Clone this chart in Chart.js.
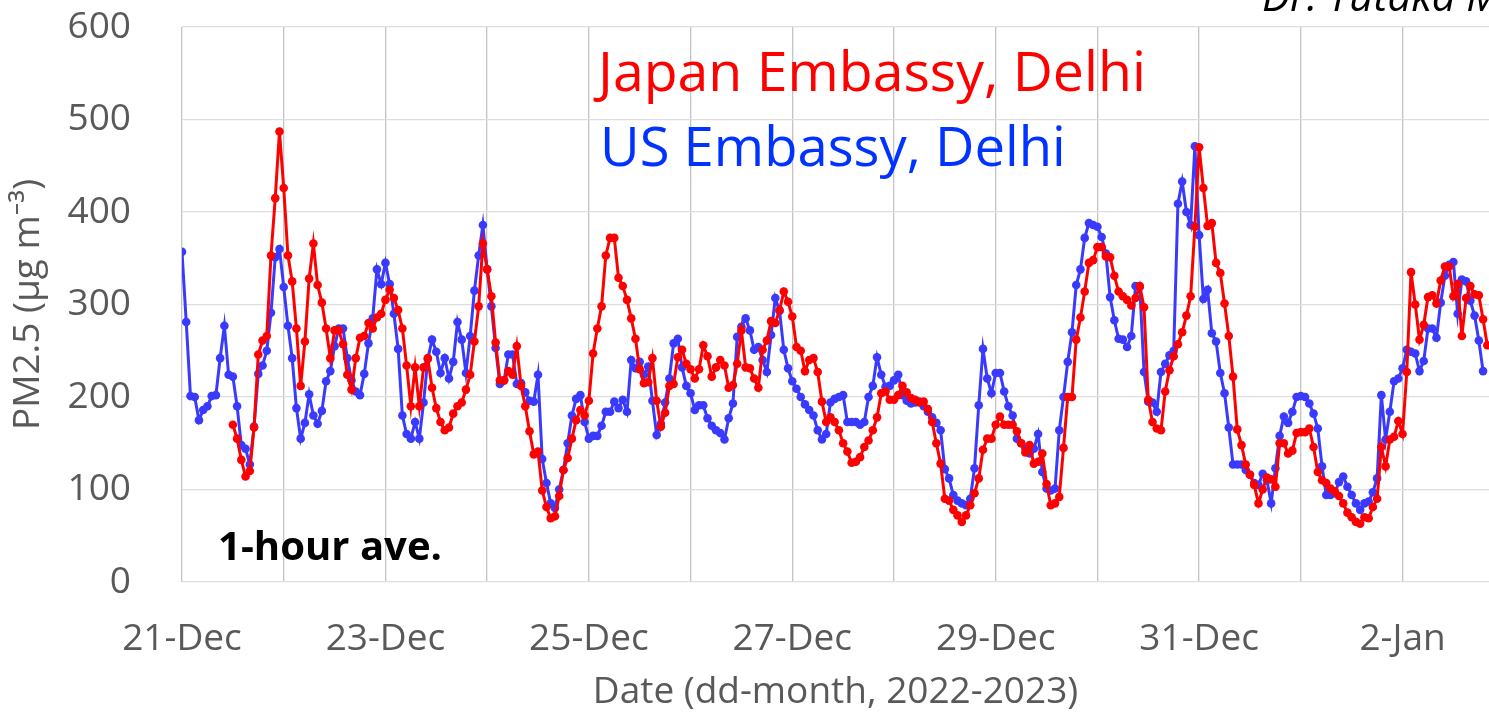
<!DOCTYPE html>
<html>
<head>
<meta charset="utf-8">
<script src="https://cdn.jsdelivr.net/npm/chart.js@4.4.0/dist/chart.umd.min.js"></script>
<style>
  html, body { margin: 0; padding: 0; background: #fff; overflow: hidden; }
  canvas { display: block; }
</style>
</head>
<body>
<canvas id="pm-chart" width="1489" height="716"></canvas>
<script>
// hourly PM2.5 (ug/m3), hour 0 = 21-Dec 00:00
const dayLabels = ['21-Dec', '', '23-Dec', '', '25-Dec', '', '27-Dec', '', '29-Dec', '', '31-Dec', '', '2-Jan'];
const yTicks = [0, 100, 200, 300, 400, 500, 600];
const seriesNames = ['Japan Embassy, Delhi', 'US Embassy, Delhi'];

const usStartHour = 0;
const usPm25 = [
  357, 281, 201, 200, 175, 186, 190, 201, 202, 242, 277, 224, 222, 190, 148, 144, 127, 168, 225, 234, 250, 291, 351, 360,
  319, 277, 242, 188, 155, 172, 203, 180, 171, 185, 217, 228, 255, 274, 274, 242, 218, 206, 202, 225, 258, 285, 338, 322,
  345, 322, 290, 252, 180, 160, 155, 173, 155, 194, 241, 262, 249, 226, 242, 220, 238, 281, 262, 226, 266, 315, 353, 386,
  338, 298, 253, 214, 218, 246, 246, 214, 215, 205, 196, 195, 224, 133, 107, 85, 80, 100, 121, 150, 180, 198, 202, 173,
  155, 158, 158, 169, 184, 184, 195, 188, 197, 184, 240, 231, 238, 224, 233, 196, 159, 171, 194, 220, 258, 263, 232, 212,
  204, 186, 191, 191, 177, 169, 164, 161, 154, 177, 193, 265, 276, 285, 272, 251, 254, 240, 227, 267, 307, 293, 251, 231,
  217, 209, 200, 192, 186, 180, 164, 154, 160, 194, 198, 200, 202, 173, 173, 173, 170, 173, 200, 212, 243, 224, 211, 212,
  218, 224, 202, 196, 193, 194, 195, 190, 184, 178, 172, 164, 122, 112, 94, 88, 85, 83, 90, 123, 191, 252, 220, 204,
  226, 226, 206, 190, 180, 155, 150, 144, 139, 144, 160, 119, 101, 99, 101, 164, 200, 238, 270, 321, 338, 372, 388, 386,
  384, 373, 355, 308, 283, 263, 262, 254, 266, 320, 319, 227, 195, 194, 184, 227, 236, 245, 250, 409, 433, 400, 386, 471,
  375, 306, 316, 269, 260, 226, 204, 167, 127, 127, 127, 121, 116, 107, 105, 117, 110, 85, 123, 158, 179, 172, 184, 200,
  201, 200, 193, 182, 166, 125, 94, 94, 96, 108, 114, 103, 94, 85, 78, 85, 87, 97, 112, 202, 154, 184, 217, 220,
  231, 251, 249, 247, 228, 239, 274, 274, 264, 302, 331, 343, 346, 290, 327, 325, 304, 288, 261, 228
];

const japanStartHour = 12;
const japanPm25 = [
  170, 155, 132, 114, 120, 167, 246, 261, 266, 353, 415, 487,
  426, 353, 325, 274, 212, 260, 328, 366, 321, 302, 274, 242, 272, 272, 257, 224, 208, 242, 264, 266, 280, 274, 286, 290,
  305, 316, 307, 294, 274, 234, 190, 232, 190, 232, 242, 210, 188, 173, 164, 167, 182, 190, 194, 208, 224, 260, 298, 366,
  338, 309, 259, 218, 218, 228, 224, 255, 212, 190, 163, 138, 141, 99, 81, 69, 71, 93, 121, 134, 155, 175, 186, 180,
  196, 247, 274, 298, 353, 372, 372, 329, 320, 305, 285, 263, 230, 215, 216, 242, 196, 168, 183, 212, 214, 243, 251, 236,
  230, 220, 230, 256, 244, 222, 232, 240, 234, 210, 213, 236, 272, 232, 231, 220, 210, 251, 261, 282, 280, 294, 314, 303,
  287, 254, 250, 228, 240, 242, 227, 195, 173, 178, 173, 164, 150, 141, 129, 130, 135, 146, 153, 164, 178, 204, 206, 197,
  197, 202, 212, 205, 199, 197, 194, 195, 187, 173, 150, 128, 90, 88, 78, 72, 65, 72, 83, 96, 112, 143, 155, 155,
  170, 179, 170, 170, 170, 163, 150, 140, 148, 128, 130, 139, 106, 83, 85, 92, 145, 200, 200, 262, 286, 314, 345, 348,
  362, 362, 352, 351, 331, 314, 309, 305, 299, 307, 320, 297, 197, 173, 166, 164, 206, 229, 244, 257, 270, 288, 309, 384,
  470, 426, 385, 388, 345, 334, 301, 266, 222, 165, 148, 127, 116, 105, 85, 100, 113, 111, 103, 150, 150, 139, 142, 161,
  162, 162, 166, 146, 119, 110, 107, 101, 98, 93, 85, 75, 70, 65, 63, 70, 69, 81, 90, 146, 125, 154, 157, 174,
  160, 227, 335, 300, 262, 278, 308, 310, 301, 326, 341, 341, 309, 322, 266, 307, 320, 311, 310, 284, 256
];

const FONT = "'Open Sans', 'Noto Sans', sans-serif";
const GREY = '#595959';
Chart.defaults.font.family = FONT;

const toPoints = (values, start) => values.map((v, i) => ({ x: start + i, y: v }));

// font size that makes a text span a given width
function fitFont(ctx, text, width, prefix) {
  ctx.font = prefix + ' 100px ' + FONT;
  const size = 100 * width / ctx.measureText(text).width;
  return prefix + ' ' + size.toFixed(1) + 'px ' + FONT;
}

const overlayText = {
  id: 'overlayText',
  afterDatasetsDraw(chart) {
    const ctx = chart.ctx;
    ctx.save();
    ctx.textAlign = 'left';
    ctx.textBaseline = 'alphabetic';

    ctx.fillStyle = '#ff0000';
    ctx.font = fitFont(ctx, seriesNames[0], 548, 'normal');
    ctx.fillText(seriesNames[0], 598, 91);

    ctx.fillStyle = '#0033ff';
    ctx.font = fitFont(ctx, seriesNames[1], 466, 'normal');
    ctx.fillText(seriesNames[1], 600, 166);

    ctx.fillStyle = '#000000';
    ctx.font = fitFont(ctx, '1-hour ave.', 224, 'bold');
    ctx.fillText('1-hour ave.', 218, 560);

    ctx.font = 'italic 42px ' + FONT;
    ctx.fillText('Dr. Yutaka M', 1262, 11);
    ctx.restore();
  }
};

new Chart(document.getElementById('pm-chart'), {
  type: 'line',
  data: {
    datasets: [{
      label: seriesNames[0],
      data: toPoints(japanPm25, japanStartHour),
      borderColor: '#ff0000',
      backgroundColor: '#ff0000',
      borderWidth: 3,
      pointRadius: 4.3,
      pointBorderWidth: 0,
      tension: 0
    },
    {
      label: seriesNames[1],
      data: toPoints(usPm25, usStartHour),
      borderColor: '#3a3aff',
      backgroundColor: '#3a3aff',
      borderWidth: 3,
      pointRadius: 4.3,
      pointBorderWidth: 0,
      tension: 0
    }]
  },
  options: {
    responsive: false,
    animation: false,
    devicePixelRatio: 1,
    layout: { autoPadding: false, padding: { top: 27, right: 0, bottom: 0, left: 0 } },
    plugins: {
      legend: { display: false },
      tooltip: { enabled: false }
    },
    scales: {
      x: {
        type: 'linear',
        min: 0,
        max: 308.4,
        afterBuildTicks: s => { s.ticks = dayLabels.map((_, i) => ({ value: i * 24 })); },
        afterFit: s => { s.height = 134; s.paddingLeft = 0; s.paddingRight = 0; },
        ticks: {
          autoSkip: false,
          maxRotation: 0,
          minRotation: 0,
          padding: 35,
          color: GREY,
          font: { size: 37 },
          callback: v => dayLabels[Math.round(v / 24)]
        },
        grid: { color: '#c4c4c4', lineWidth: 1.3, drawTicks: false },
        border: { display: false },
        title: {
          display: true,
          text: 'Date (dd-month, 2022-2023)',
          color: GREY,
          font: { size: 37 },
          padding: { top: 0, bottom: 1 }
        }
      },
      y: {
        min: 0,
        max: 600,
        afterBuildTicks: s => { s.ticks = yTicks.map(v => ({ value: v })); },
        afterFit: s => { s.width = 182; s.paddingTop = 0; s.paddingBottom = 0; },
        ticks: { padding: 51, color: GREY, font: { size: 37 } },
        grid: { color: '#dedede', lineWidth: 1.3, drawTicks: false },
        border: { display: false },
        title: {
          display: true,
          text: 'PM2.5 (µg m⁻³)',
          color: GREY,
          font: { size: 37 },
          padding: { top: 6, bottom: 0 }
        }
      }
    }
  },
  plugins: [overlayText]
});
</script>
</body>
</html>
